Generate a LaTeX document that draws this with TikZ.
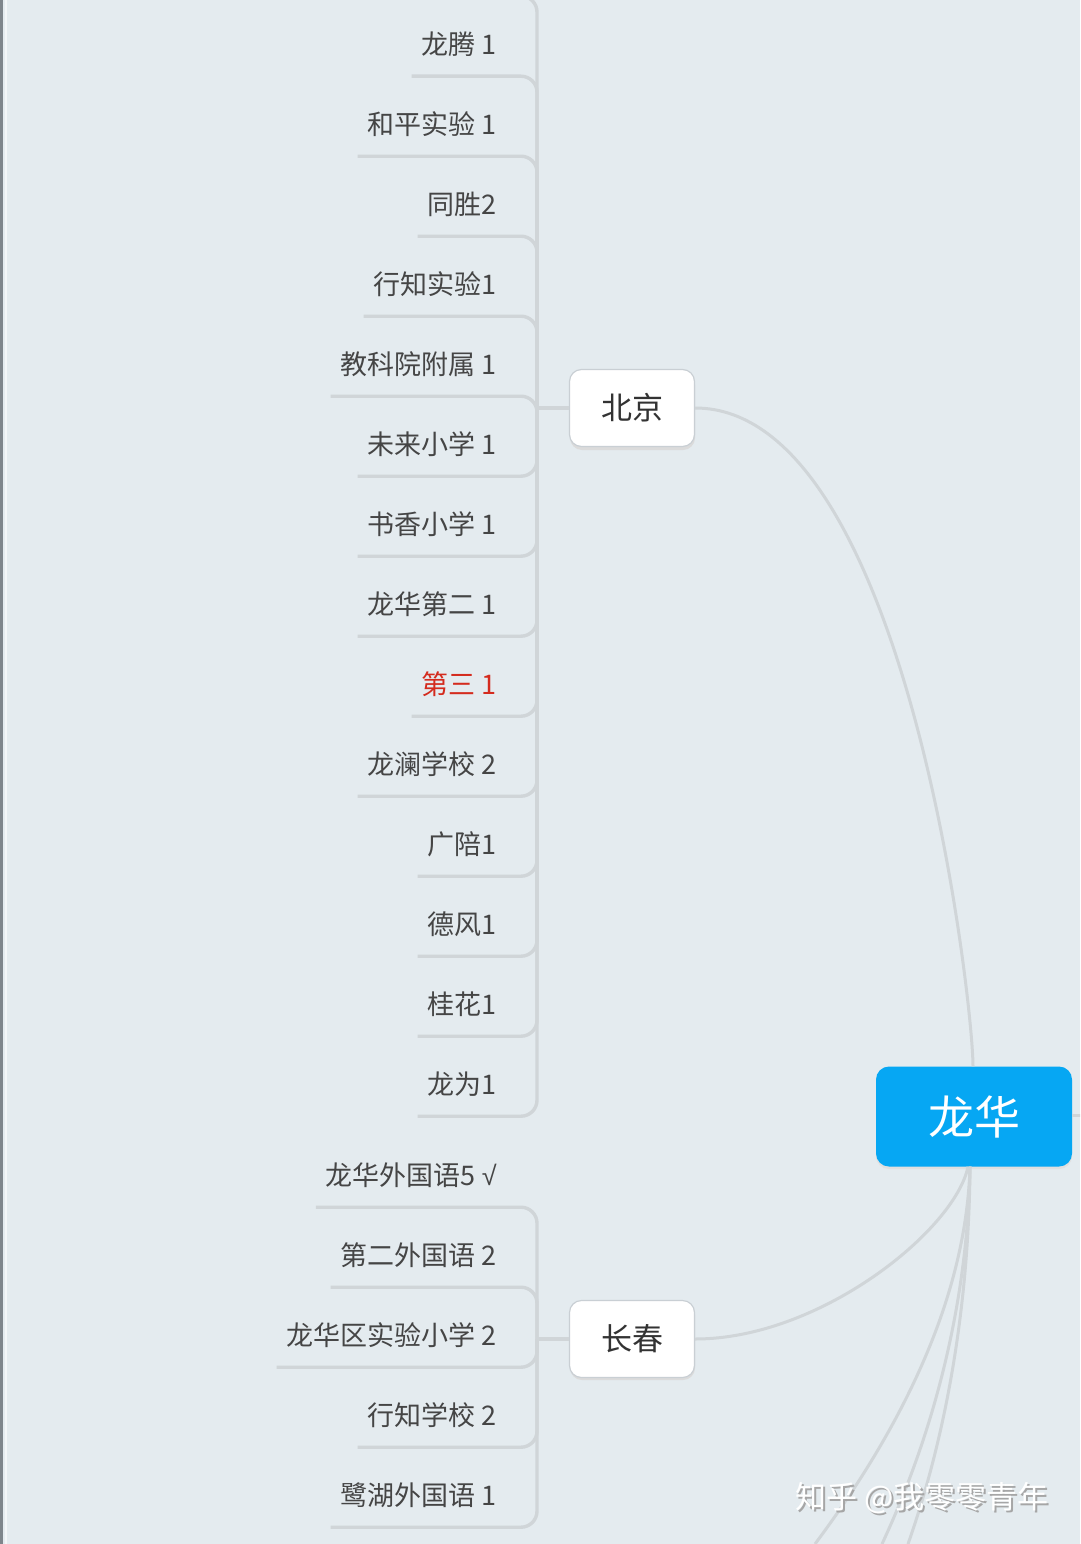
\documentclass[tikz,border=0pt]{standalone}
\usepackage{fontspec}
\newfontfamily\cjk{Noto Sans CJK SC}
\newfontfamily\symf{Liberation Sans}
\definecolor{bgc}{HTML}{E4EBEF}
\definecolor{linegray}{HTML}{D0D5D8}
\definecolor{itemgray}{HTML}{454545}
\definecolor{itemred}{HTML}{D42B1E}
\definecolor{rootblue}{HTML}{06A7F3}
\definecolor{nodeborder}{HTML}{C9CFD4}
\definecolor{edgegray}{HTML}{7E858B}
\tikzset{
  item/.style={font=\cjk\fontsize{27}{32}\selectfont, text=itemgray, inner xsep=10pt, inner ysep=0pt, minimum height=64pt, anchor=east},
  lnk/.style={draw=linegray, line width=3.4pt, rounded corners=16pt},
  conn/.style={draw=linegray, line width=3pt},
  city/.style={font=\cjk\fontsize{31}{36}\selectfont, text=black!80, fill=white, draw=nodeborder, line width=1.2pt, rounded corners=12pt, minimum width=125pt, minimum height=77pt, inner sep=0pt},
  rootbox/.style={font=\cjk\fontsize{46}{52}\selectfont, text=white, fill=rootblue, rounded corners=13pt, minimum width=196pt, minimum height=100pt, inner sep=0pt},
}
\begin{document}
\begin{tikzpicture}[x=1pt,y=-1pt]
\useasboundingbox (0,0) rectangle (1080,1544);
\clip (0,0) rectangle (1080,1544);
\fill[bgc] (0,0) rectangle (1080,1544);
\fill[edgegray] (0,0) rectangle (2.5,1544);
\fill[white!55!bgc] (4.5,0) rectangle (6.5,1544);

% root
\fill[black!12, rounded corners=13pt] (876,1069) rectangle (1072,1169);
\node[rootbox] (root) at (974,1116.5) {龙华};

% city nodes (with shadows)
\fill[black!14, rounded corners=12pt] (570,373) rectangle (695,450);
\node[city] (bj) at (632,408) {北京};
\fill[black!14, rounded corners=12pt] (570,1303) rectangle (695,1380);
\node[city] (cc) at (632,1339) {长春};

% junctions
\coordinate (bjj) at (537,408);
\coordinate (ccj) at (537,1339);

% Beijing items
\node[item] (b1) at (507,44) {龙腾 1};
\node[item] (b2) at (507,124) {和平实验 1};
\node[item] (b3) at (507,204) {同胜2};
\node[item] (b4) at (507,284) {行知实验1};
\node[item] (b5) at (507,364) {教科院附属 1};
\node[item] (b6) at (507,444) {未来小学 1};
\node[item] (b7) at (507,524) {书香小学 1};
\node[item] (b8) at (507,604) {龙华第二 1};
\node[item, text=itemred] (b9) at (507,684) {第三 1};
\node[item] (b10) at (507,764) {龙澜学校 2};
\node[item] (b11) at (507,844) {广陪1};
\node[item] (b12) at (507,924) {德风1};
\node[item] (b13) at (507,1004) {桂花1};
\node[item] (b14) at (507,1084) {龙为1};
\coordinate (b0) at (470,-4);

\draw[lnk] (b0) -- (b0 -| bjj) -- (bjj);
\foreach \n in {b1,b2,b3,b4,b5,b6,b7,b8,b9,b10,b11,b12,b13,b14}
  \draw[lnk] (\n.south west) -- (\n.south west -| bjj) -- (bjj);
\draw[lnk] (bjj) -- (bj.west);

% Changchun items
\node[item] (c1) at (507,1175) {龙华外国语5 {\symf √}};
\node[item] (c2) at (507,1255) {第二外国语 2};
\node[item] (c3) at (507,1335) {龙华区实验小学 2};
\node[item] (c4) at (507,1415) {行知学校 2};
\node[item] (c5) at (507,1495) {鹭湖外国语 1};
\foreach \n in {c1,c2,c3,c4,c5}
  \draw[lnk] (\n.south west) -- (\n.south west -| ccj) -- (ccj);
\draw[lnk] (ccj) -- (cc.west);

% root connectors
\draw[conn] (bj.east) .. controls +(211,0) and +(0,-65) .. ([xshift=-1pt]root.north);
\draw[conn] (cc.east) .. controls +(125,0) and (955,1230) .. ([xshift=-6pt]root.south);
\coordinate (d1) at (815,1544);
\coordinate (d2) at (882,1544);
\coordinate (d3) at (908,1544);
\draw[conn] ([xshift=-4pt]root.south) .. controls (966,1300) and (900,1430) .. (d1);
\draw[conn] ([xshift=-4pt]root.south) .. controls (968,1300) and (935,1430) .. (d2);
\draw[conn] ([xshift=-4pt]root.south) .. controls (969,1300) and (948,1430) .. (d3);
\coordinate (rstub) at (1082,1115);
\draw[conn] (root.east |- rstub) -- (rstub);

% watermark
\node[font=\cjk\fontsize{31}{36}\selectfont, text=black!35, anchor=east] at (1054,1500) {知乎 @我零零青年};
\node[font=\cjk\fontsize{31}{36}\selectfont, text=white, anchor=east] (wm) at (1052,1498) {知乎 @我零零青年};
\end{tikzpicture}
\end{document}
